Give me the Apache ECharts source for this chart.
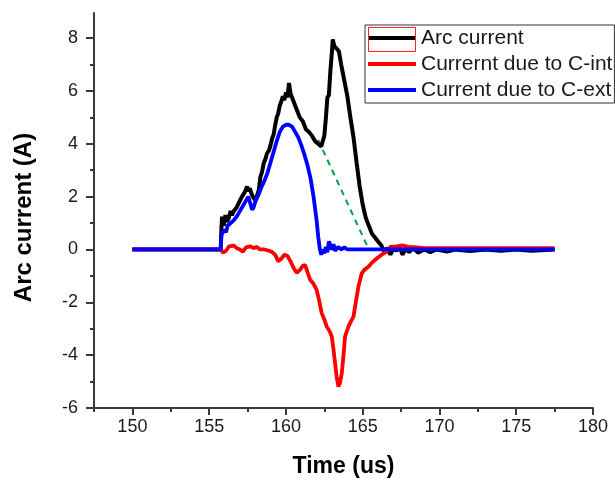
<!DOCTYPE html>
<html>
<head>
<meta charset="utf-8">
<script src="https://cdn.jsdelivr.net/npm/echarts@6/dist/echarts.min.js"></script>
<style>
html,body{margin:0;padding:0;background:#fff;}
#chart{width:615px;height:480px;}
</style>
</head>
<body>
<div id="chart"></div>
<script>
// ---- Data ----
var seriesNames = ['Arc current', 'Currernt due to C-int', 'Current due to C-ext'];

var arcTime = [150,155.75,155.8,155.84,155.95,156.06,156.15,156.27,156.4,156.49,156.6,156.7,156.8,156.92,157.05,157.14,157.3,157.47,157.56,157.64,157.79,157.9,158.0,158.1,158.23,158.34,158.45,158.55,158.65,158.77,158.9,159.0,159.1,159.2,159.3,159.4,159.5,159.6,159.7,159.8,159.9,160.0,160.1,160.2,160.3,160.4,160.5,160.6,160.7,160.8,160.9,161.0,161.1,161.2,161.3,161.5,161.6,161.7,161.8,161.9,162.0,162.1,162.2,162.3,162.4,162.5,162.6,162.7,162.8,162.9,163.0,163.05,163.15,163.3,163.45,163.6,163.8,164.0,164.2,164.4,164.6,164.8,165.0,165.2,165.4,165.6,165.8,166.0,166.2,166.4,166.6,166.8,167.0,167.2,167.4,167.6,167.8,168.0,168.3,168.6,169.0,169.4,169.8,170.5,171,172,173,174,175,176,177.5];
var arcCurrent = [0,0,0.8,1.24,0.9,1.3,1.05,1.18,1.45,1.3,1.45,1.4,1.6,1.75,1.9,2.0,2.15,2.38,2.2,2.32,2.06,1.95,1.87,2.0,2.25,2.75,2.95,3.26,3.4,3.64,3.75,3.95,4.2,4.35,4.7,5.0,5.15,5.45,5.6,5.8,5.65,5.95,5.75,6.3,5.9,5.75,5.6,5.55,5.3,5.15,5.0,4.95,4.85,4.7,4.55,4.45,4.4,4.3,4.35,4.1,4.05,4.0,3.95,3.9,3.85,4.3,4.95,5.75,5.85,6.8,7.5,7.95,7.7,7.6,7.5,7.0,6.4,5.8,5.0,4.25,3.3,2.4,1.7,1.2,0.9,0.6,0.45,0.3,0.17,-0.08,0.05,-0.2,0.05,-0.05,0.1,-0.2,0.05,-0.1,0.05,-0.12,0.0,-0.1,0.0,-0.08,0,-0.06,0,-0.05,0,-0.05,0];

var intTime = [150,155.75,155.9,156.1,156.3,156.6,156.8,157.0,157.2,157.4,157.7,157.9,158.1,158.3,158.6,158.9,159.1,159.3,159.5,159.7,159.9,160.1,160.3,160.5,160.7,160.9,161.1,161.25,161.4,161.58,161.8,162.0,162.15,162.33,162.5,162.66,162.85,162.99,163.1,163.2,163.3,163.42,163.52,163.64,163.75,163.85,164.07,164.25,164.4,164.55,164.72,164.94,165.15,165.37,165.6,165.8,166.0,166.23,166.56,166.8,167.2,167.6,168.0,168.5,169.0,170,177.5];
var intCurrent = [0,0,-0.12,-0.05,0.12,0.15,0.05,0.0,-0.08,0.08,0.12,0.05,0.1,0.0,0.0,-0.05,-0.1,-0.2,-0.45,-0.35,-0.2,-0.25,-0.45,-0.7,-0.88,-0.78,-0.62,-0.59,-0.85,-1.15,-1.3,-1.53,-1.9,-2.41,-2.65,-2.92,-3.1,-3.3,-3.8,-4.3,-4.8,-5.19,-5.05,-4.68,-4.0,-3.3,-2.92,-2.7,-2.54,-2.0,-1.41,-0.9,-0.75,-0.65,-0.5,-0.4,-0.3,-0.2,-0.08,0.1,0.12,0.15,0.1,0.08,0.05,0.05,0.05];

var extTime = [150,155.75,155.8,155.9,156.0,156.1,156.2,156.4,156.6,156.8,157.0,157.2,157.4,157.55,157.7,157.8,157.9,158.0,158.2,158.4,158.6,158.8,159.0,159.2,159.4,159.6,159.8,160.0,160.2,160.4,160.6,160.8,161.0,161.2,161.4,161.6,161.8,162.0,162.1,162.2,162.3,162.4,162.5,162.6,162.7,162.8,162.9,163.0,163.1,163.2,163.4,163.6,163.8,164.0,177.5];
var extCurrent = [0,0,0.55,0.6,0.75,0.65,0.9,1.0,1.1,1.25,1.45,1.65,1.85,2.0,1.7,1.5,1.6,1.8,2.05,2.35,2.6,2.9,3.3,3.7,4.1,4.45,4.65,4.72,4.72,4.65,4.45,4.25,3.95,3.6,3.2,2.7,2.0,1.1,0.5,0.05,-0.2,0.0,-0.15,0.1,-0.1,0.3,0.35,0.0,0.2,-0.05,0.1,0.0,0.08,0.0,0];

var guideTime = [162.1, 165.4];
var guideCurrent = [4.15, 0.0];

var xMajorTicks = [150,155,160,165,170,175,180];
var xMinorTicks = [147.5,152.5,157.5,162.5,167.5,172.5,177.5];
var yMajorTicks = [-6,-4,-2,0,2,4,6,8];
var yMinorTicks = [-5,-3,-1,1,3,5,7];

function pairs(xs, ys){ var o=[]; for(var i=0;i<xs.length;i++){ o.push([xs[i], ys[i]]); } return o; }

var FONT = '"Liberation Sans", Arial, sans-serif';
var chart = echarts.init(document.getElementById('chart'), null, {renderer:'canvas'});

var axisLineStyle = {color:'#3a3a3a', width:2};
var option = {
  animation:false,
  backgroundColor:'#fff',
  grid:{left:94, right:22, top:13, bottom:72, containLabel:false, outerBoundsMode:'none'},
  xAxis:[{
    type:'value', min:147.5, max:180, interval:2.5,
    splitLine:{show:false},
    axisLine:{show:true, onZero:false, lineStyle:axisLineStyle},
    axisTick:{show:true, customValues:xMajorTicks, length:7, lineStyle:axisLineStyle},
    axisLabel:{customValues:xMajorTicks, fontSize:18, color:'#1a1a1a', fontFamily:FONT, margin:10},
    name:'Time (us)', nameLocation:'middle', nameGap:47,
    nameTextStyle:{fontSize:23, fontWeight:'bold', color:'#000', fontFamily:FONT}
  },{
    type:'value', min:147.5, max:180, interval:2.5, position:'bottom',
    splitLine:{show:false},
    axisLine:{show:false, onZero:false},
    axisTick:{show:true, customValues:xMinorTicks, length:4, lineStyle:axisLineStyle},
    axisLabel:{show:false}
  }],
  yAxis:[{
    type:'value', min:-6, max:8.95, interval:1,
    splitLine:{show:false},
    axisLine:{show:true, onZero:false, lineStyle:axisLineStyle},
    axisTick:{show:true, customValues:yMajorTicks, length:8, lineStyle:axisLineStyle},
    axisLabel:{customValues:yMajorTicks, fontSize:18, color:'#1a1a1a', fontFamily:FONT, margin:16},
    name:'Arc current (A)', nameLocation:'middle', nameGap:58,
    nameTextStyle:{fontSize:24, fontWeight:'bold', color:'#000', fontFamily:FONT, padding:[0,14,0,0]}
  },{
    type:'value', min:-6, max:8.95, interval:1, position:'left',
    splitLine:{show:false},
    axisLine:{show:false, onZero:false},
    axisTick:{show:true, customValues:yMinorTicks, length:4, lineStyle:axisLineStyle},
    axisLabel:{show:false}
  }],
  legend:{
    data:seriesNames, orient:'vertical', left:365, top:25,
    icon:'rect',
    borderColor:'#333', borderWidth:1, padding:[1,2,1,3],
    itemWidth:48, itemHeight:4, itemGap:2,
    textStyle:{fontSize:21, lineHeight:24, color:'#1a1a1a', fontFamily:FONT}
  },
  series:[
    {name:'guide', type:'line', data:pairs(guideTime, guideCurrent), symbol:'none', silent:true,
     lineStyle:{color:'#0aa04a', width:2, type:[6,5]}, z:1},
    {name:seriesNames[0], type:'line', data:pairs(arcTime, arcCurrent), symbol:'none',
     lineStyle:{color:'#000', width:4}, itemStyle:{color:'#000'}, z:2},
    {name:seriesNames[1], type:'line', data:pairs(intTime, intCurrent), symbol:'none',
     lineStyle:{color:'#ff0000', width:3.8}, itemStyle:{color:'#ff0000'}, z:3},
    {name:seriesNames[2], type:'line', data:pairs(extTime, extCurrent), symbol:'none',
     lineStyle:{color:'#0000ff', width:3.8}, itemStyle:{color:'#0000ff'}, z:4}
  ],
  graphic:{elements:[{
    type:'rect', x:368.5, y:27.5, z:100,
    shape:{x:0, y:0, width:47, height:24},
    style:{fill:null, stroke:'#ff2020', lineWidth:1}
  }]}
};
chart.setOption(option);
</script>
</body>
</html>
